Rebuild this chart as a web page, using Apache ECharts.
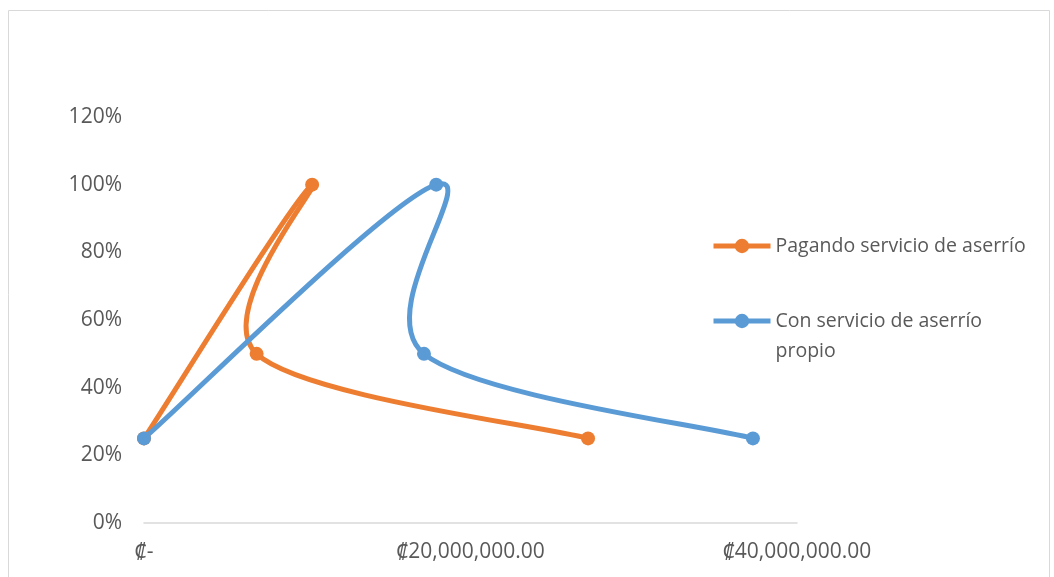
<!DOCTYPE html>
<html lang="es">
<head>
<meta charset="UTF-8" />
<title>Aserrío</title>
<style>
  html, body { margin: 0; padding: 0; background: #fff; }
  #chart { width: 1054px; height: 577px; }
</style>
</head>
<body>
<div id="chart"></div>
<script src="https://cdn.jsdelivr.net/npm/echarts@6/dist/echarts.min.js"></script>
<script>
// costos (colones) y porcentaje
var pagandoX = [0, 10300000, 6900000, 27200000];
var pagandoY = [25, 100, 50, 25];
var propioX = [0, 17900000, 17150000, 37300000];
var propioY = [25, 100, 50, 25];
var seriesNames = ['Pagando servicio de aserrío', 'Con servicio de aserrío propio'];
var colors = ['#ED7D31', '#5B9BD5'];

function pairs(xs, ys) {
  var out = [];
  for (var i = 0; i < xs.length; i++) out.push([xs[i], ys[i]]);
  return out;
}

function colones(v) {
  if (v === 0) return '₡-';
  var s = v.toFixed(2).split('.');
  return '₡' + s[0].replace(/\B(?=(\d{3})+(?!\d))/g, ',') + '.' + s[1];
}

// curva suavizada tipo Excel (catmull-rom), un tramo por punto
function smoothCurve(data, color) {
  return function (params, api) {
    var i = params.dataIndex;
    if (i >= data.length - 1) return null;
    var p = data.map(function (d) { return api.coord(d); });
    var p0 = p[Math.max(i - 1, 0)], p1 = p[i], p2 = p[i + 1], p3 = p[Math.min(i + 2, p.length - 1)];
    var t = 1 / 6;
    return {
      type: 'bezierCurve',
      shape: {
        x1: p1[0], y1: p1[1], x2: p2[0], y2: p2[1],
        cpx1: p1[0] + (p2[0] - p0[0]) * t, cpy1: p1[1] + (p2[1] - p0[1]) * t,
        cpx2: p2[0] - (p3[0] - p1[0]) * t, cpy2: p2[1] - (p3[1] - p1[1]) * t
      },
      style: { fill: 'none', stroke: color, lineWidth: 5, lineCap: 'round' }
    };
  };
}

var pagando = pairs(pagandoX, pagandoY);
var propio = pairs(propioX, propioY);

var font = '"Open Sans", "Noto Sans", sans-serif';
var chart = echarts.init(document.getElementById('chart'));
chart.setOption({
  animation: false,
  graphic: [{
    type: 'rect',
    shape: { x: 8.5, y: 10.5, width: 1041, height: 580 },
    style: { fill: 'none', stroke: '#d9d9d9', lineWidth: 1 }
  }],
  grid: { left: 144, right: 257, top: 117, bottom: 54 },
  legend: {
    orient: 'vertical',
    left: 706,
    top: 226,
    itemWidth: 57,
    itemHeight: 18,
    itemGap: 15,
    lineStyle: { width: 5, opacity: 1 },
    data: seriesNames,
    formatter: function (name) {
      // icono alineado con la primera línea del texto
      return name === seriesNames[1] ? '\nCon servicio de aserrío\npropio' : name;
    },
    textStyle: { fontFamily: font, fontSize: 19.5, color: '#595959', lineHeight: 30 }
  },
  xAxis: {
    type: 'value',
    min: 0,
    max: 40000000,
    interval: 20000000,
    splitLine: { show: false },
    axisTick: { show: false },
    axisLine: { lineStyle: { color: '#d9d9d9', width: 1.5 } },
    axisLabel: { formatter: colones, fontFamily: font, fontSize: 21, color: '#595959', margin: 19 }
  },
  yAxis: {
    type: 'value',
    min: 0,
    max: 120,
    interval: 20,
    splitLine: { show: false },
    axisTick: { show: false },
    axisLine: { show: false },
    axisLabel: { formatter: '{value}%', fontFamily: font, fontSize: 21, color: '#595959', margin: 22 }
  },
  series: [{
    name: 'curva0',
    type: 'custom',
    renderItem: smoothCurve(pagando, colors[0]),
    data: pagando,
    encode: { x: 0, y: 1 },
    z: 1
  }, {
    name: 'curva1',
    type: 'custom',
    renderItem: smoothCurve(propio, colors[1]),
    data: propio,
    encode: { x: 0, y: 1 },
    z: 1
  }, {
    name: seriesNames[0],
    type: 'line',
    data: pagando,
    symbol: 'circle',
    symbolSize: 14,
    lineStyle: { width: 5, color: colors[0], opacity: 0 },
    itemStyle: { color: colors[0] },
    z: 3
  }, {
    name: seriesNames[1],
    type: 'line',
    data: propio,
    symbol: 'circle',
    symbolSize: 14,
    lineStyle: { width: 5, color: colors[1], opacity: 0 },
    itemStyle: { color: colors[1] },
    z: 3
  }]
});
</script>
</body>
</html>
